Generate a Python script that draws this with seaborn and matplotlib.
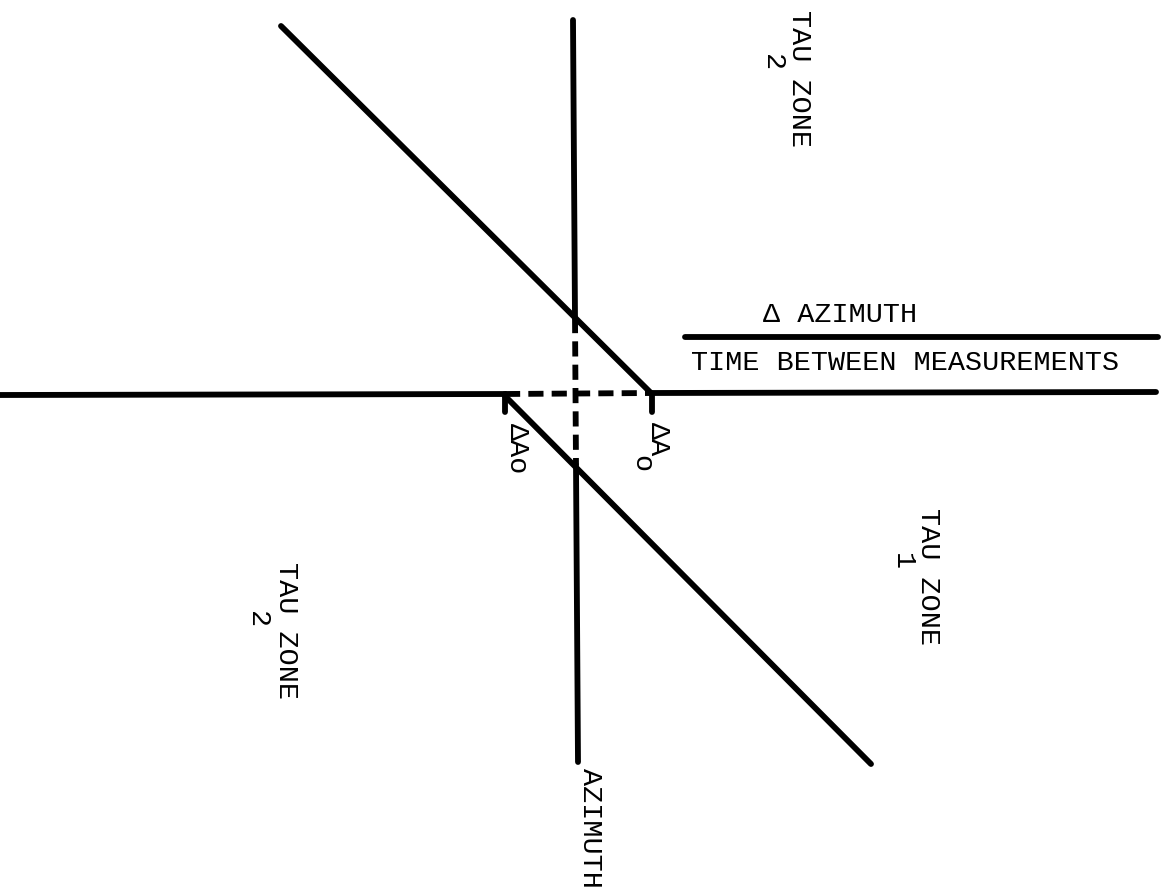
import matplotlib
matplotlib.use("Agg")
import matplotlib.pyplot as plt
import seaborn as sns
import pandas as pd

sns.set_theme(style="white")
plt.rcParams['font.family'] = ['Liberation Mono', 'DejaVu Sans Mono']

# Diagram line segments (x0, y0, x1, y1) in diagram units, y measured downward
seg_names = ["h_left", "h_dash", "h_right", "fraction", "v_top", "v_dash",
             "v_bottom", "diag_upper", "diag_lower", "tick_left", "tick_right"]
seg_x0 = [0, 505, 652, 685, 573, 575, 576, 281, 505, 505, 652]
seg_y0 = [395, 394, 393, 337, 20, 318, 465, 26, 396, 394, 394]
seg_x1 = [505, 652, 1156, 1158, 575, 576, 578, 652, 871, 505, 652]
seg_y1 = [394, 393, 392, 337, 318, 465, 762, 394, 764, 412, 412]
seg_dashed = [False, True, False, False, False, True, False, False, False, False, False]

# Text labels
label_texts = ["Δ AZIMUTH", "TIME BETWEEN MEASUREMENTS",
               "TAU ZONE", "2", "TAU ZONE", "2", "TAU ZONE", "1",
               "AZIMUTH", "ΔAo", "ΔA", "o"]
label_x = [840, 905, 799, 772, 286, 257, 928, 902, 590, 517, 658, 641]
label_y = [315, 363, 78, 63, 630, 620, 576, 562, 828, 449, 439, 464]
label_rot = [0, 0, 270, 270, 270, 270, 270, 270, 270, 270, 270, 270]

fig = plt.figure(figsize=(11.69, 8.91), dpi=100)
ax = fig.add_axes([0, 0, 1, 1])

lw = 4.2
for i, name in enumerate(seg_names):
    df = pd.DataFrame({"x": [seg_x0[i], seg_x1[i]], "y": [seg_y0[i], seg_y1[i]]})
    sns.lineplot(data=df, x="x", y="y", ax=ax, sort=False, estimator=None,
                 color="black", linewidth=lw)
    line = ax.lines[-1]
    line.set_solid_capstyle("round")
    if seg_dashed[i]:
        line.set_dashes((2.6, 1.4))
        line.set_dash_capstyle("butt")

for t, x, y, r in zip(label_texts, label_x, label_y, label_rot):
    ax.text(x, y, t, rotation=r, ha="center", va="center", fontsize=20.5,
            color="black")

ax.set_xlim(0, 1169)
ax.set_ylim(891, 0)
ax.set_axis_off()
fig.savefig("out.png", dpi=100, facecolor="white")
